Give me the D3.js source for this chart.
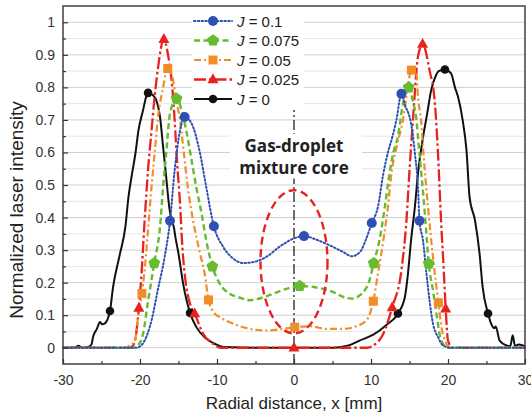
<!DOCTYPE html>
<html>
<head>
<meta charset="utf-8">
<script src="https://cdn.jsdelivr.net/npm/d3@7"></script>
<style>
  body { margin: 0; background: #fff; }
  svg { display: block; font-family: "Liberation Sans", Arial, sans-serif; }
</style>
</head>
<body>
<svg id="chart" width="531" height="417"></svg>
<script>
// Normalized laser intensity profiles across the spray, one per J value.
const jValues = ["0.1", "0.075", "0.05", "0.025", "0"];

// [radial distance (mm), normalized intensity]
const profile_J010 = [[-30,0],[-20.5,0],[-20.0,0.004],[-19.4,0.022],[-18.5,0.084],[-17.7,0.176],[-16.8,0.279],[-16.1,0.39],[-15.5,0.545],[-14.8,0.668],
  [-14.2,0.709],[-13.3,0.689],[-12.2,0.597],[-11.4,0.494],[-10.4,0.373],[-9.2,0.31],[-7.9,0.274],[-6.6,0.26],[-5.3,0.263],[-3.6,0.279],
  [-1.9,0.31],[-0.1,0.335],[1.3,0.343],[2.9,0.332],[4.6,0.315],[6.4,0.294],[7.5,0.281],[8.6,0.295],[9.3,0.33],[10.1,0.383],
  [10.9,0.433],[11.6,0.535],[12.2,0.60],[12.8,0.65],[13.3,0.70],[13.95,0.78],[14.5,0.74],[15.0,0.71],[15.4,0.66],[15.7,0.597],
  [16.1,0.494],[16.3,0.39],[16.75,0.33],[17.2,0.228],[17.6,0.146],[18.05,0.074],[18.7,0.033],[19.35,0.007],[20.3,0],[30,0]];
const profile_J0075 = [[-30,0],[-21,0],[-20.3,0.007],[-19.6,0.043],[-19.0,0.135],[-18.15,0.26],[-17.4,0.371],[-17.0,0.494],[-16.6,0.597],[-16.1,0.72],
  [-15.25,0.765],[-14.6,0.73],[-14.0,0.668],[-13.3,0.576],[-12.7,0.494],[-12.0,0.412],[-11.4,0.33],[-10.6,0.25],[-9.65,0.197],[-8.35,0.166],
  [-7.05,0.154],[-5.75,0.146],[-3.6,0.158],[-1.4,0.178],[0.74,0.19],[2.9,0.185],[5.1,0.171],[6.4,0.156],[7.45,0.151],[9.0,0.171],
  [9.8,0.207],[10.35,0.26],[11.1,0.33],[11.8,0.433],[12.4,0.535],[12.9,0.60],[13.5,0.65],[14.15,0.75],[14.9,0.80],[15.4,0.761],
  [15.9,0.70],[16.2,0.62],[16.6,0.52],[17.1,0.381],[17.5,0.258],[18.05,0.176],[18.5,0.105],[18.9,0.043],[19.35,0.012],[20,0],[30,0]];
const profile_J005 = [[-30,0],[-21.8,0],[-21.4,0.007],[-20.7,0.017],[-20.3,0.084],[-19.75,0.167],[-19.4,0.238],[-19.0,0.35],[-18.5,0.494],[-18.1,0.597],
  [-17.7,0.70],[-17.0,0.80],[-16.4,0.858],[-15.7,0.822],[-15.3,0.761],[-14.8,0.70],[-14.3,0.597],[-13.8,0.494],[-13.1,0.39],[-12.2,0.289],
  [-11.6,0.228],[-11.1,0.147],[-10.3,0.105],[-9.65,0.094],[-7.9,0.074],[-5.75,0.058],[-3.6,0.053],[-1.4,0.058],[0.1,0.063],[2.0,0.066],
  [4.2,0.058],[6.4,0.058],[8.1,0.066],[9.4,0.084],[10.3,0.143],[10.9,0.228],[11.6,0.33],[12.2,0.433],[12.65,0.535],[13.4,0.625],
  [14.15,0.70],[14.6,0.771],[15.25,0.853],[15.9,0.843],[16.1,0.771],[16.5,0.70],[16.8,0.60],[17.4,0.433],[18.05,0.279],[18.75,0.138],
  [19.15,0.063],[19.6,0.022],[20.2,0.002],[20.6,0],[30,0]];
const profile_J0025 = [[-30,0],[-21.5,0],[-20.9,0.007],[-20.5,0.043],[-20.15,0.122],[-19.8,0.228],[-19.4,0.39],[-18.96,0.545],[-18.5,0.668],[-18.1,0.771],
  [-17.7,0.853],[-16.9,0.948],[-16.4,0.905],[-15.9,0.822],[-15.5,0.70],[-15.2,0.576],[-14.8,0.443],[-14.5,0.31],[-14.1,0.207],[-13.5,0.135],
  [-12.9,0.105],[-11.8,0.043],[-10.5,0.012],[-9.5,0],[0,0],[9.5,0],[10.3,0.007],[11.6,0.043],[12.75,0.124],[13.95,0.238],
  [14.6,0.39],[15.0,0.545],[15.45,0.70],[16.1,0.894],[16.7,0.933],[17.6,0.853],[18.3,0.75],[18.7,0.597],[19.1,0.39],[19.45,0.238],
  [19.7,0.12],[20.0,0.022],[20.6,0],[30,0]];
const profile_J000 = [[-30,0],[-28.5,0],[-28,0.006],[-27.5,0],[-26.8,0.002],[-26.3,0.01],[-26.1,0.033],[-25.6,0.058],[-25.2,0.079],[-24.9,0.072],
  [-24.6,0.074],[-23.9,0.113],[-23.5,0.186],[-22.6,0.289],[-21.9,0.371],[-21.5,0.463],[-21.1,0.525],[-20.6,0.596],[-20.2,0.668],[-19.6,0.73],
  [-19.2,0.771],[-18.95,0.783],[-18.3,0.776],[-17.8,0.755],[-17.4,0.709],[-17.0,0.617],[-16.6,0.525],[-16.2,0.432],[-15.9,0.392],[-15.6,0.37],
  [-15.4,0.34],[-15.0,0.289],[-14.4,0.197],[-13.5,0.107],[-12.7,0.064],[-11.4,0.028],[-10.1,0.01],[-9.0,0.002],[-5,0],[0,0],
  [5,0],[6.3,0.003],[7.2,0.008],[8.5,0.022],[10.3,0.04],[12.0,0.07],[13.5,0.105],[14.4,0.156],[14.8,0.228],[15.2,0.33],
  [15.7,0.433],[16.1,0.535],[16.7,0.638],[17.3,0.72],[17.8,0.79],[18.4,0.835],[18.8,0.85],[19.6,0.855],[20.4,0.843],[20.9,0.80],
  [21.3,0.771],[21.9,0.70],[22.4,0.607],[22.8,0.463],[23.5,0.392],[24.1,0.289],[24.5,0.186],[25.2,0.105],[25.6,0.074],[26.0,0.06],
  [26.2,0.065],[26.7,0.022],[27.6,0.007],[28.1,0.005],[28.4,0.038],[28.7,0.006],[29.2,0.01],[30,0.005]];

// Radial positions carrying a symbol on each profile
const marks_J010 = [-16.1, -14.2, -10.4, 1.3, 10.1, 13.95, 16.3];
const marks_J0075 = [-18.15, -15.25, -10.6, 0.74, 10.35, 14.9, 17.5];
const marks_J005 = [-19.75, -16.4, -11.1, 0.1, 10.3, 15.25, 18.75];
const marks_J0025 = [-20.15, -16.9, -12.9, 0, 12.75, 16.7, 19.7];
const marks_J000 = [-23.9, -18.95, -13.5, 13.5, 19.6, 25.2];

// Axis ticks
const xTicks = [-30, -20, -10, 0, 10, 20, 30];
const xMinorTicks = [-25, -15, -5, 5, 15, 25];
const yTicks = [0, 0.1, 0.2, 0.3, 0.4, 0.5, 0.6, 0.7, 0.8, 0.9, 1];
const yMinorTicks = [0.05, 0.15, 0.25, 0.35, 0.45, 0.55, 0.65, 0.75, 0.85, 0.95];

// Core annotation: ellipse centre/radii in data units and the label lines
const coreEllipse = [0, 0.264, 4.35, 0.22];
const coreLabel = ["Gas-droplet", "mixture core"];

const series = [
  { j: jValues[0], data: profile_J010, marks: marks_J010, color: "#2f4fb3", dash: "1.5,2.3", cap: "round", width: 2.0, shape: "circle", size: 5 },
  { j: jValues[1], data: profile_J0075, marks: marks_J0075, color: "#66bb2e", dash: "6,3.5", cap: "butt", width: 2.4, shape: "pentagon", size: 6.2 },
  { j: jValues[2], data: profile_J005, marks: marks_J005, color: "#f28c28", dash: "7,3,2,3", cap: "butt", width: 2.2, shape: "square", size: 9 },
  { j: jValues[3], data: profile_J0025, marks: marks_J0025, color: "#e8231f", dash: "12,3,2.5,3", cap: "butt", width: 2.3, shape: "triangle", size: 11 },
  { j: jValues[4], data: profile_J000, marks: marks_J000, color: "#111111", dash: null, cap: "butt", width: 2.0, shape: "circle", size: 4.3 }
];

const svg = d3.select("#chart");
const x = d3.scaleLinear().domain([-30, 30]).range([63, 525]);
const y = d3.scaleLinear().domain([-0.05, 1.05]).range([364, 6]);

// gridlines
const grid = svg.append("g");
grid.selectAll("line.minor").data(yMinorTicks).join("line")
  .attr("x1", x(-30)).attr("x2", x(30))
  .attr("y1", d => y(d)).attr("y2", d => y(d))
  .attr("stroke", "#e6e6e6").attr("stroke-width", 1);
grid.selectAll("line.major").data(yTicks).join("line")
  .attr("x1", x(-30)).attr("x2", x(30))
  .attr("y1", d => y(d)).attr("y2", d => y(d))
  .attr("stroke", "#cfcfcf").attr("stroke-width", 1);

// centreline of the spray
svg.append("line")
  .attr("x1", x(0)).attr("x2", x(0))
  .attr("y1", y(0.755)).attr("y2", y(-0.05))
  .attr("stroke", "#222").attr("stroke-width", 1.3)
  .attr("stroke-dasharray", "10,3,2,3");

// label backdrop and text
svg.append("rect")
  .attr("x", x(-8.3)).attr("width", x(8.8) - x(-8.3))
  .attr("y", y(0.657)).attr("height", y(0.52) - y(0.657))
  .attr("fill", "#fff");
svg.append("g").selectAll("text").data(coreLabel).join("text")
  .attr("x", x(0)).attr("y", (d, i) => y(0.6) + i * 22)
  .attr("text-anchor", "middle")
  .attr("font-family", "'Open Sans', 'Noto Sans', sans-serif")
  .attr("font-weight", "bold").attr("font-size", 17)
  .attr("fill", "#222")
  .text(d => d);

// symbol helpers
function symbolPath(shape, s) {
  if (shape === "circle") return d3.symbol(d3.symbolCircle, Math.PI * s * s)();
  if (shape === "square") return d3.symbol(d3.symbolSquare, s * s)();
  if (shape === "triangle") {
    const h = s * 0.9;
    return `M0,${-h * 0.62}L${s / 2},${h * 0.38}L${-s / 2},${h * 0.38}Z`;
  }
  const pts = d3.range(5).map(k => {
    const a = -Math.PI / 2 + k * 2 * Math.PI / 5;
    return [s * Math.cos(a), s * Math.sin(a)];
  });
  return "M" + pts.map(p => p.join(",")).join("L") + "Z";
}

const line = d3.line().x(d => x(d[0])).y(d => y(d[1])).curve(d3.curveMonotoneX);

// draw profiles, black first so the coloured ones sit on top
const drawOrder = [4, 3, 2, 1, 0];
const plot = svg.append("g");
drawOrder.forEach(i => {
  const s = series[i];
  plot.append("path")
    .attr("d", line(s.data))
    .attr("fill", "none")
    .attr("stroke", s.color)
    .attr("stroke-width", s.width)
    .attr("stroke-linecap", s.cap)
    .attr("stroke-linejoin", "round")
    .attr("stroke-dasharray", s.dash);
});
drawOrder.forEach(i => {
  const s = series[i];
  const pts = s.marks.map(mx => s.data.find(p => p[0] === mx));
  plot.append("g").selectAll("path").data(pts).join("path")
    .attr("transform", d => `translate(${x(d[0])},${y(d[1])})`)
    .attr("d", symbolPath(s.shape, s.size))
    .attr("fill", s.color);
});

// core ellipse
svg.append("ellipse")
  .attr("cx", x(coreEllipse[0])).attr("cy", y(coreEllipse[1]))
  .attr("rx", x(coreEllipse[2]) - x(0)).attr("ry", y(0) - y(coreEllipse[3]))
  .attr("fill", "none").attr("stroke", "#e8231f")
  .attr("stroke-width", 2.4).attr("stroke-dasharray", "8,4.5");

// legend
const legend = svg.append("g");
legend.append("rect").attr("x", 192).attr("y", 7).attr("width", 112).attr("height", 103).attr("fill", "#fff");
series.forEach((s, i) => {
  const ly = 21 + i * 19.5;
  const g = legend.append("g").attr("transform", `translate(0,${ly})`);
  g.append("line").attr("x1", 194).attr("x2", 232).attr("y1", 0).attr("y2", 0)
    .attr("stroke", s.color).attr("stroke-width", s.width)
    .attr("stroke-linecap", s.cap).attr("stroke-dasharray", s.dash);
  g.append("path").attr("transform", "translate(213,0)")
    .attr("d", symbolPath(s.shape, s.size)).attr("fill", s.color);
  const t = g.append("text").attr("x", 237).attr("y", 5.5)
    .attr("font-size", 15).attr("fill", "#222");
  t.append("tspan").attr("font-style", "italic").text("J");
  t.append("tspan").text(" = " + s.j);
});

// axes with inward ticks
const axisColor = "#333";
const xAxis = svg.append("g").attr("transform", `translate(0,${y(-0.05)})`)
  .call(d3.axisBottom(x).tickValues(xTicks).tickSize(-5).tickPadding(11).tickFormat(d => String(d)));
const xMinor = svg.append("g").attr("transform", `translate(0,${y(-0.05)})`)
  .call(d3.axisBottom(x).tickValues(xMinorTicks).tickSize(-3).tickFormat(""));
const yAxis = svg.append("g").attr("transform", `translate(${x(-30)},0)`)
  .call(d3.axisLeft(y).tickValues(yTicks).tickSize(-5).tickPadding(8).tickFormat(d => String(d)));
const yMinor = svg.append("g").attr("transform", `translate(${x(-30)},0)`)
  .call(d3.axisLeft(y).tickValues(yMinorTicks).tickSize(-3).tickFormat(""));
[xAxis, xMinor, yAxis, yMinor].forEach(a => {
  a.select(".domain").remove();
  a.selectAll(".tick line").attr("stroke", axisColor).attr("stroke-width", 1.2);
  a.selectAll("text").attr("font-size", 14).attr("fill", "#333").attr("font-family", "'Liberation Sans', Arial, sans-serif");
});

// frame
svg.append("rect")
  .attr("x", x(-30)).attr("y", y(1.05))
  .attr("width", x(30) - x(-30)).attr("height", y(-0.05) - y(1.05))
  .attr("fill", "none").attr("stroke", axisColor).attr("stroke-width", 1.4);

// axis titles
svg.append("text")
  .attr("x", x(0)).attr("y", 409)
  .attr("text-anchor", "middle").attr("font-size", 17).attr("fill", "#222")
  .text("Radial distance, x [mm]");
svg.append("text")
  .attr("transform", `translate(23,210) rotate(-90)`)
  .attr("text-anchor", "middle").attr("font-size", 19).attr("fill", "#222")
  .text("Normalized laser intensity");
</script>
</body>
</html>
